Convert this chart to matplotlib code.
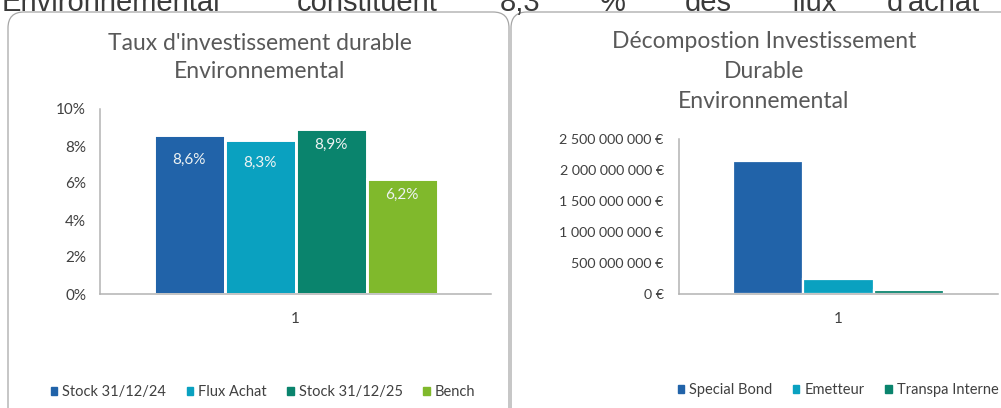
import numpy as np
import matplotlib
matplotlib.use('Agg')
import matplotlib.pyplot as plt
from matplotlib.patches import FancyBboxPatch, Patch
from matplotlib.ticker import FuncFormatter

# chart 1 data
taux_series = ['Stock 31/12/24', 'Flux Achat', 'Stock 31/12/25', 'Bench']
taux_values = [0.086, 0.083, 0.089, 0.062]
taux_labels = ['8,6%', '8,3%', '8,9%', '6,2%']
taux_ticks = [0, 0.02, 0.04, 0.06, 0.08, 0.10]

# chart 2 data
decomp_series = ['Special Bond', 'Emetteur', 'Transpa Interne']
decomp_values = [2.15e9, 0.235e9, 0.06e9]
decomp_ticks = [0, 0.5e9, 1.0e9, 1.5e9, 2.0e9, 2.5e9]

category = ['1']
top_words = ['Environnemental', 'constituent', '8,3', '%', 'des', 'flux', "d'achat"]
top_word_x = [2, 297, 500, 600, 685, 792, 887]

colors = ['#2163A9', '#0AA1C0', '#0A846D', '#80B92C']
W, H = 1001, 408
font = 'Lato'
title_col = '#595959'
text_col = '#404040'
spine_col = '#b3b3b3'

fig = plt.figure(figsize=(W / 100, H / 100), dpi=100)
fig.patch.set_facecolor('white')

# panel borders (pixel coords)
for x0, w in [(8, 501), (511, 520)]:
    box = FancyBboxPatch((x0, -30), w, H - 12 + 30, boxstyle='round,pad=0,rounding_size=16',
                         transform=None, facecolor='none', edgecolor='#a6a6a6', linewidth=0.9)
    fig.patches.append(box)

# text of the page above, cut by the screenshot
for word, x in zip(top_words, top_word_x):
    fig.text(x / W, 1 - 11 / H, word, fontsize=21, family='Liberation Sans',
             color='#3a3a3a', ha='left', va='baseline')


def style_axis(ax):
    for s in ['top', 'right']:
        ax.spines[s].set_visible(False)
    for s in ['left', 'bottom']:
        ax.spines[s].set_color(spine_col)
        ax.spines[s].set_linewidth(1.1)
    ax.tick_params(length=0, labelsize=11, labelcolor=text_col)
    ax.tick_params(axis='x', pad=13)
    ax.tick_params(axis='y', pad=10)
    for lab in ax.get_xticklabels() + ax.get_yticklabels():
        lab.set_family(font)
    ax.set_facecolor('none')


# ---- left chart
ax1 = fig.add_axes([100 / W, 1 - 294 / H, 391 / W, 185 / H])
pitch1 = 71 / 391
offs1 = (np.arange(len(taux_values)) - (len(taux_values) - 1) / 2) * pitch1
ax1.bar(offs1, taux_values, width=pitch1, color=colors[:4], edgecolor='white', linewidth=2.1)
ax1.set_xlim(-0.5, 0.5)
ax1.set_ylim(0, 0.10)
ax1.set_yticks(taux_ticks)
ax1.yaxis.set_major_formatter(FuncFormatter(lambda v, p: '%d%%' % round(v * 100)))
ax1.set_xticks([0])
ax1.set_xticklabels(category)
style_axis(ax1)
label_drop = [-25, -22, -16, -16]
for x, v, lab, d in zip(offs1, taux_values, taux_labels, label_drop):
    ax1.annotate(lab, (x, v), xytext=(0, d), textcoords='offset pixels', ha='center', va='center',
                 fontsize=11, family=font, color='#eef3f3')

fig.text(260 / W, 1 - 43 / H, "Taux d'investissement durable", ha='center', va='center',
         fontsize=16.5, family=font, color=title_col)
fig.text(260 / W, 1 - 72 / H, 'Environnemental', ha='center', va='center',
         fontsize=16.5, family=font, color=title_col)

fig.legend([Patch(color=c) for c in colors[:4]], taux_series, loc='center',
           bbox_to_anchor=(263 / W, 1 - 392 / H), ncol=4, frameon=False,
           handlelength=0.45, handleheight=0.45, handletextpad=0.35, columnspacing=1.4,
           prop={'family': font, 'size': 10.5}, labelcolor=text_col)

# ---- right chart
ax2 = fig.add_axes([679 / W, 1 - 294 / H, 319 / W, 155 / H])
pitch2 = 70.5 / 319
offs2 = (np.arange(len(decomp_values)) - (len(decomp_values) - 1) / 2) * pitch2
ax2.bar(offs2, decomp_values, width=pitch2, color=colors[:3], edgecolor='white', linewidth=1.6)
ax2.set_xlim(-0.5, 0.5)
ax2.set_ylim(0, 2.5e9)
ax2.set_yticks(decomp_ticks)
ax2.yaxis.set_major_formatter(FuncFormatter(lambda v, p: '{:,.0f} €'.format(v).replace(',', ' ')))
ax2.set_xticks([0])
ax2.set_xticklabels(category)
style_axis(ax2)
ax2.tick_params(axis='y', pad=11, labelsize=10.3)

for i, line in enumerate(['Décompostion Investissement', 'Durable', 'Environnemental']):
    fig.text(764 / W, 1 - (42 + 30 * i) / H, line, ha='center', va='center',
             fontsize=16.5, family=font, color=title_col)

fig.legend([Patch(color=c) for c in colors[:3]], decomp_series, loc='center',
           bbox_to_anchor=(838 / W, 1 - 390 / H), ncol=3, frameon=False,
           handlelength=0.45, handleheight=0.45, handletextpad=0.35, columnspacing=1.4,
           prop={'family': font, 'size': 10.5}, labelcolor=text_col)

fig.savefig('out.png', dpi=100, facecolor='white')
